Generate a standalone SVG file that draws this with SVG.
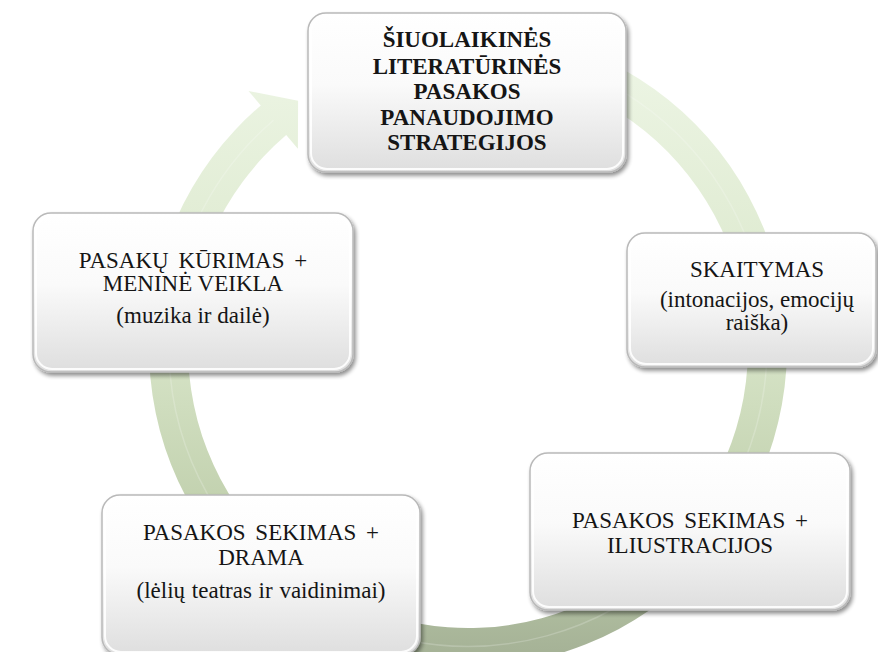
<svg xmlns="http://www.w3.org/2000/svg" width="878" height="652" viewBox="0 0 878 652">
  <defs>
    <linearGradient id="ringGrad" gradientUnits="userSpaceOnUse" x1="0" y1="40" x2="0" y2="650">
      <stop offset="0" stop-color="#eef6e6"/>
      <stop offset="0.45" stop-color="#dbe8cc"/>
      <stop offset="0.75" stop-color="#c3d2b0"/>
      <stop offset="1" stop-color="#a6b397"/>
    </linearGradient>
    <linearGradient id="boxFill" x1="0" y1="0" x2="0" y2="1">
      <stop offset="0" stop-color="#ffffff"/>
      <stop offset="0.45" stop-color="#fafafa"/>
      <stop offset="1" stop-color="#dedede"/>
    </linearGradient>
    <filter id="shadow" x="-10%" y="-10%" width="125%" height="130%">
      <feGaussianBlur in="SourceAlpha" stdDeviation="2"/>
      <feOffset dx="2" dy="3" result="b"/>
      <feComponentTransfer><feFuncA type="linear" slope="0.45"/></feComponentTransfer>
      <feMerge><feMergeNode/><feMergeNode in="SourceGraphic"/></feMerge>
    </filter>
    <style>
      .box { fill: url(#boxFill); stroke: #b9b9b9; stroke-width: 1.5; filter: url(#shadow); }
      .bevel { fill: none; stroke: #ffffff; stroke-width: 2; opacity: 0.9; }
      .t { font-family: "Liberation Serif", "Times New Roman", serif; font-size: 23px; fill: #151515; text-anchor: middle; }
      .b { font-weight: bold; }
    </style>
  </defs>
  <rect width="878" height="652" fill="#ffffff"/>

  <g id="connectors">
    <path id="cycle-arrow" fill="url(#ringGrad)" d="M523.4,33.8 A319,319 0 1 1 260.8,105.4 L248.5,91.0 L298.1,100.8 L297.9,148.8 L286.2,135.1 A280,280 0 1 0 516.6,72.3 Z"/>
    <path d="M520,53 A299,299 0 1 1 273.5,120.3" fill="none" stroke="#ffffff" stroke-width="1.5" opacity="0.2"/>
  </g>

  <g id="node-top">
    <rect class="box" x="308" y="13" width="318" height="159" rx="18"/>
    <rect class="bevel" x="311" y="16" width="312" height="153" rx="16"/>
    <text class="t b" x="467" y="47">ŠIUOLAIKINĖS</text>
    <text class="t b" x="467" y="74">LITERATŪRINĖS</text>
    <text class="t b" x="467" y="99">PASAKOS</text>
    <text class="t b" x="467" y="125">PANAUDOJIMO</text>
    <text class="t b" x="467" y="150">STRATEGIJOS</text>
  </g>

  <g id="node-right">
    <rect class="box" x="627" y="233" width="249" height="134" rx="18"/>
    <rect class="bevel" x="630" y="236" width="243" height="128" rx="16"/>
    <text class="t" x="757" y="277">SKAITYMAS</text>
    <text class="t" x="757" y="307">(intonacijos, emocijų</text>
    <text class="t" x="757" y="330">raiška)</text>
  </g>

  <g id="node-bottom-right">
    <rect class="box" x="530" y="453" width="320" height="157" rx="18"/>
    <rect class="bevel" x="533" y="456" width="314" height="151" rx="16"/>
    <text class="t" x="690" y="528" word-spacing="4">PASAKOS SEKIMAS +</text>
    <text class="t" x="690" y="553">ILIUSTRACIJOS</text>
  </g>

  <g id="node-bottom-left">
    <rect class="box" x="102" y="495" width="318" height="160" rx="18"/>
    <rect class="bevel" x="105" y="498" width="312" height="154" rx="16"/>
    <text class="t" x="261" y="540" word-spacing="4">PASAKOS SEKIMAS +</text>
    <text class="t" x="261" y="565">DRAMA</text>
    <text class="t" x="261" y="598" word-spacing="1">(lėlių teatras ir vaidinimai)</text>
  </g>

  <g id="node-left">
    <rect class="box" x="33" y="213" width="320" height="159" rx="18"/>
    <rect class="bevel" x="36" y="216" width="314" height="153" rx="16"/>
    <text class="t" x="193" y="268" word-spacing="4">PASAKŲ KŪRIMAS +</text>
    <text class="t" x="193" y="291">MENINĖ VEIKLA</text>
    <text class="t" x="193" y="323">(muzika ir dailė)</text>
  </g>
</svg>
